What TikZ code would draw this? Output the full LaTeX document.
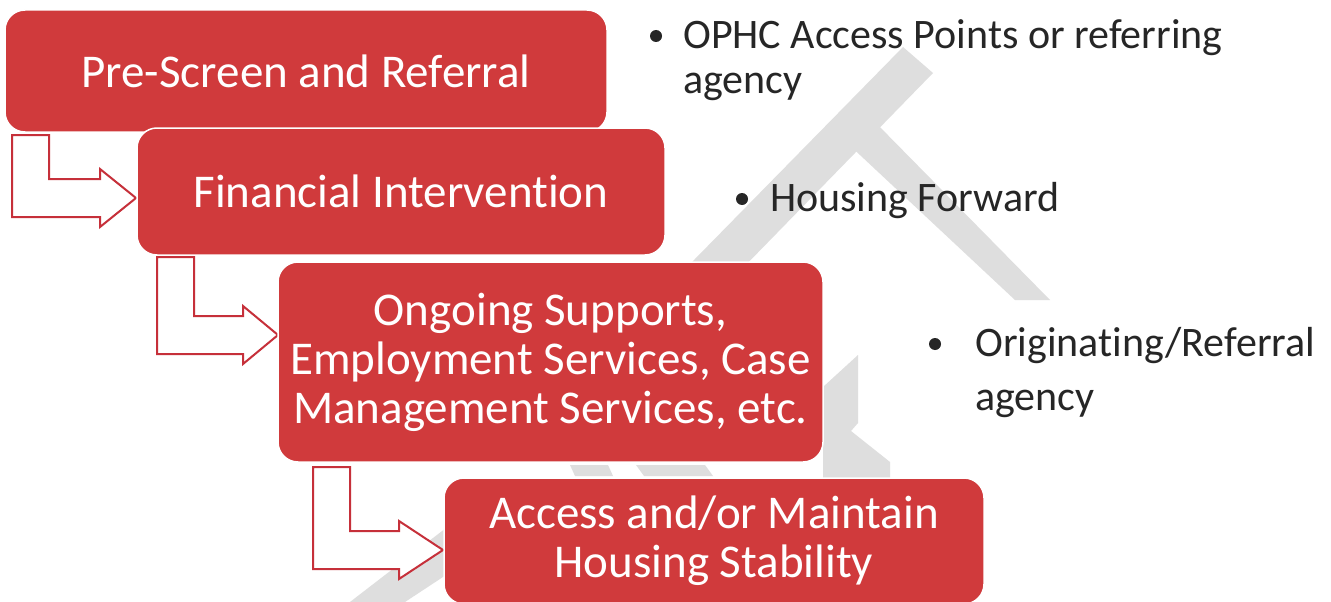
\documentclass[tikz,border=0pt]{standalone}
\usepackage{fontspec}
\setmainfont{Carlito}[Ligatures={NoCommon}]
\usepackage{tikz}

\definecolor{stagered}{RGB}{208,58,60}
\definecolor{linered}{RGB}{198,48,58}
\definecolor{markgray}{RGB}{222,222,222}
\definecolor{notegray}{RGB}{38,38,38}

\tikzset{
  stage/.style={rectangle, rounded corners=20pt, fill=stagered, draw=white, line width=1.5pt,
    text=white, inner sep=0pt, align=center, font=\fontsize{47}{49}\selectfont},
  bentarrow/.style={draw=linered, fill=white, line width=2pt, line join=miter},
  note/.style={anchor=base west, inner sep=0pt, align=left, text=notegray,
    font=\fontsize{42}{46}\selectfont},
  notedot/.style={circle, fill=notegray, inner sep=0pt, minimum size=12pt},
  watermark/.style={fill=markgray, draw=none},
}

% outer x, top y, shaft mid y, head base x, tip x
\newcommand{\stagearrow}[5]{%
  \draw[bentarrow] (#1,#2) -- (#1,#3+19) -- (#4,#3+19) -- (#4,#3+29) -- (#5,#3)
    -- (#4,#3-29) -- (#4,#3-19) -- (#1+37,#3-19) -- (#1+37,#2) -- cycle;}

\begin{document}
\begin{tikzpicture}[x=1pt, y=-1pt]
    \useasboundingbox (0,0) rectangle (1331,602);
    \fill[white] (0,0) rectangle (1331,602);

    % watermark
    \fill[watermark] (903,47) -- (933,73) -- (699,313) -- (642,313) -- cycle;
    \fill[watermark] (873,120) -- (1050,300) -- (1015,300) -- (845,141) -- cycle;
    \fill[watermark] (823,387) -- (858,355) -- (858,423) -- (851,431) -- (890,462)
        -- (890,478) -- (823,478) -- cycle;
    \fill[watermark] (570,465) -- (608,465) -- (613,476) -- (575,476) -- cycle;
    \fill[watermark] (636,465) -- (705,465) -- (713,476) -- (644,476) -- cycle;
    \fill[watermark] (446,528) -- (446,575) -- (405,602) -- (350,602) -- cycle;

    % arrows
    \stagearrow{12}{135}{198}{100}{136}
    \stagearrow{157}{257}{335}{243}{278}
    \stagearrow{313}{467}{550}{399}{443}

    % stages
    \node[stage, minimum width=602pt, minimum height=122pt] (prescreen) at (306,71)
        {Pre-Screen and Referral};
    \node[stage, minimum width=528pt, minimum height=127pt] (financial) at (401,191.5)
        {Financial Intervention};
    \node[stage, minimum width=545pt, minimum height=200pt] (ongoing) at (550.5,362)
        {Ongoing Supports,\\Employment Services, Case\\Management Services, etc.};
    \node[stage, minimum width=540pt, minimum height=126pt] (housing) at (714,541)
        {Access and/or Maintain\\Housing Stability};

    % notes
    \node[notedot] (dot1) at (656,36) {};
    \node[note] (note1) at (683,94) {OPHC Access Points or referring\\agency};
    \node[notedot] (dot2) at (742,199) {};
    \node[note] (note2) at (770,211) {Housing Forward};
    \node[notedot] (dot3) at (935,344) {};
    \node[note, font=\fontsize{42}{54}\selectfont] (note3) at (975,410)
        {Originating/Referral\\agency};
\end{tikzpicture}
\end{document}
